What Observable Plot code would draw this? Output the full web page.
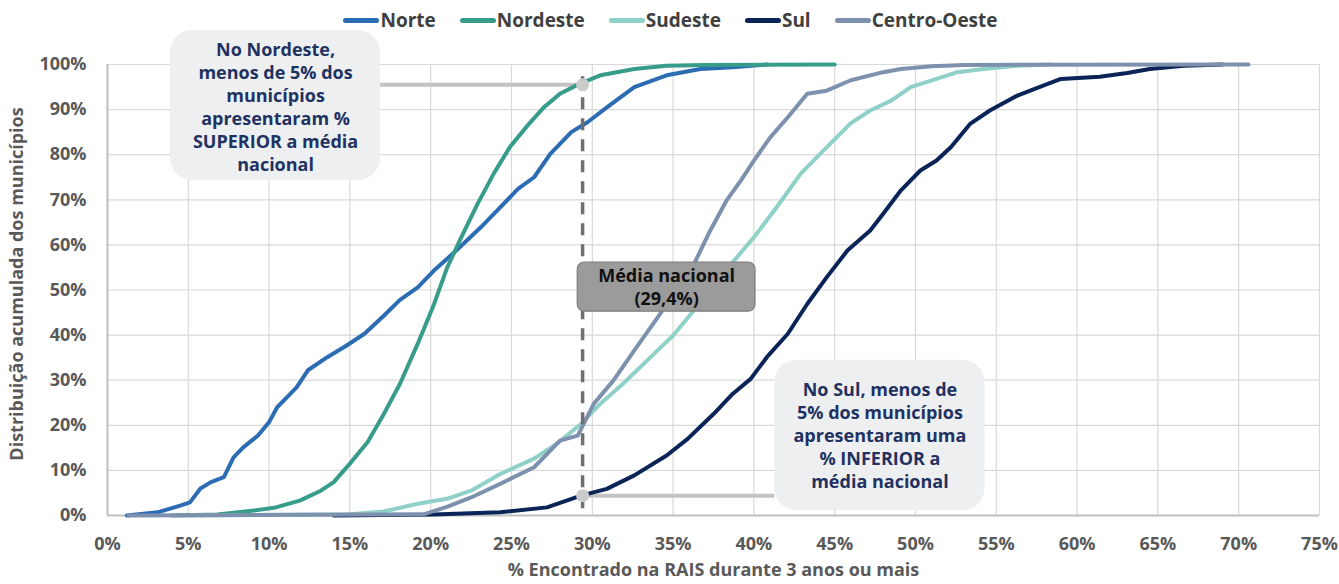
<!DOCTYPE html>
<html>
<head>
<meta charset="utf-8">
<script src="https://cdn.jsdelivr.net/npm/d3@7"></script>
<script src="https://cdn.jsdelivr.net/npm/@observablehq/plot@0.6"></script>
<style>
  body { margin: 0; background: #fff; width: 1339px; height: 584px; overflow: hidden; font-family: "Open Sans", sans-serif; }
  #legend { height: 30px; display: flex; justify-content: center; align-items: flex-end; gap: 24px; font-weight: 700; font-size: 19px; color: #404040; padding-left: 2px; box-sizing: border-box; }
  #legend .item { display: flex; align-items: center; line-height: 19px; height: 19px; }
  #legend .sw { width: 36px; height: 5px; border-radius: 3px; margin-right: 1px; }
  #chart svg { overflow: visible; display: block; }
</style>
</head>
<body>
<div id="legend"></div>
<div id="chart"></div>
<script>
// ---------- data ----------
const regions = ["Norte", "Nordeste", "Sudeste", "Sul", "Centro-Oeste"];
const colors  = ["#2b6cb3", "#389c8a", "#8fd1c8", "#0b2458", "#7d91ae"];

const xTicks = [0, 5, 10, 15, 20, 25, 30, 35, 40, 45, 50, 55, 60, 65, 70, 75];
const yTicks = [0, 10, 20, 30, 40, 50, 60, 70, 80, 90, 100];

const norteX = [1.2, 3.1, 4.5, 5.1, 5.75, 6.4, 7.2, 7.8, 8.4, 9.3, 10.0, 10.5, 11.1, 11.7, 12.4, 13.6, 14.8, 15.9, 17.1, 18.1, 19.2, 20.2, 21.6, 23.1, 24.3, 25.4, 26.4, 27.4, 28.7, 29.7, 30.9, 32.6, 34.6, 36.7, 38.7, 40.8];
const norteY = [0, 0.7, 2.2, 2.9, 6.0, 7.4, 8.5, 12.9, 15.1, 17.7, 20.7, 24.0, 26.2, 28.4, 32.2, 35.1, 37.7, 40.3, 44.3, 47.8, 50.6, 54.3, 58.8, 63.9, 68.3, 72.4, 75.0, 80.2, 85.0, 87.2, 90.5, 95.0, 97.6, 99.0, 99.4, 100];

const nordesteX = [4.0, 6.8, 8.8, 10.3, 11.9, 13.2, 14.0, 15.0, 16.1, 17.1, 18.1, 19.2, 20.2, 21.0, 21.8, 22.9, 23.9, 24.9, 26.0, 27.0, 28.0, 29.2, 30.5, 32.6, 34.6, 37.0, 45.0];
const nordesteY = [0, 0.2, 1.0, 1.7, 3.3, 5.5, 7.4, 11.5, 16.3, 22.5, 29.2, 38.1, 46.8, 54.8, 61.0, 69.1, 75.8, 81.7, 86.5, 90.5, 93.5, 95.7, 97.6, 99.0, 99.7, 99.9, 100];

const sudesteX = [5.0, 15.0, 17.1, 19.2, 21.0, 22.5, 24.3, 26.4, 27.8, 29.3, 30.5, 31.9, 33.4, 35.0, 36.3, 37.5, 38.6, 40.0, 41.4, 42.9, 44.3, 46.0, 47.2, 48.5, 49.7, 51.3, 52.6, 54.2, 56.3, 58.4];
const sudesteY = [0, 0.3, 0.9, 2.6, 3.7, 5.5, 9.2, 12.6, 15.9, 20.3, 24.8, 29.2, 34.4, 39.9, 45.5, 52.0, 55.8, 61.7, 68.3, 75.8, 80.9, 87.0, 89.8, 92.0, 95.0, 96.8, 98.3, 99.0, 99.7, 100];

const sulX = [14.0, 20.2, 24.3, 27.2, 29.3, 30.9, 32.6, 34.6, 35.9, 37.5, 38.7, 39.8, 40.8, 42.1, 43.3, 44.5, 45.8, 47.2, 48.0, 49.1, 50.3, 51.3, 52.2, 53.4, 54.6, 56.3, 57.9, 59.0, 61.4, 63.1, 64.5, 66.6, 69.0];
const sulY = [0, 0.2, 0.7, 1.8, 4.4, 5.9, 8.9, 13.3, 17.0, 22.5, 27.0, 30.3, 35.1, 40.3, 46.9, 52.8, 58.8, 63.2, 66.9, 72.1, 76.5, 78.7, 81.7, 86.9, 89.8, 93.1, 95.3, 96.8, 97.3, 98.1, 99.0, 99.7, 100];

const centroOesteX = [1.3, 19.6, 21.0, 22.5, 24.3, 26.4, 28.0, 29.1, 30.1, 31.3, 32.6, 34.2, 35.5, 36.3, 37.3, 38.3, 39.2, 40.0, 41.0, 42.1, 43.3, 44.5, 46.0, 48.0, 49.1, 51.0, 53.0, 70.6];
const centroOesteY = [0, 0.3, 1.9, 4.0, 7.0, 10.7, 16.6, 17.7, 24.8, 29.9, 36.6, 44.7, 51.4, 55.8, 63.2, 69.8, 74.3, 78.7, 83.8, 88.3, 93.5, 94.2, 96.5, 98.3, 99.0, 99.6, 99.9, 100];

const mediaNacional = 29.4;
const mediaLabel = "Média nacional\n(29,4%)";
const marcoSuperior = 95.5;   // Nordeste: 95% abaixo da média
const marcoInferior = 4.4;    // Sul: <5% abaixo da média

const calloutTexts = [
  "No Nordeste,\nmenos de 5% dos\nmunicípios\napresentaram %\nSUPERIOR a média\nnacional",
  "No Sul, menos de\n5% dos municípios\napresentaram uma\n% INFERIOR a\nmédia nacional"
];
const xTitle = "% Encontrado na RAIS durante 3 anos ou mais";
const yTitle = "Distribuição acumulada dos municípios";

// ---------- build tables ----------
const seriesX = [norteX, nordesteX, sudesteX, sulX, centroOesteX];
const seriesY = [norteY, nordesteY, sudesteY, sulY, centroOesteY];
const rows = [];
regions.forEach((r, i) => seriesX[i].forEach((x, j) => rows.push({region: r, x, y: seriesY[i][j]})));

// callout boxes in data units
const callouts = [
  {x1: 3.9, x2: 16.9, y1: 74.3, y2: 107.5, cx: 10.4, cy: 90.8, text: calloutTexts[0]},
  {x1: 41.3, x2: 54.3, y1: 1.1, y2: 34.4, cx: 47.8, cy: 18.0, text: calloutTexts[1]}
];
const mediaBox = [{x1: 29.1, x2: 40.1, y1: 45.2, y2: 56.1, cx: 34.6, cy: 50.8, text: mediaLabel}];

// ---------- legend ----------
const leg = document.getElementById("legend");
regions.forEach((r, i) => {
  const it = document.createElement("div");
  it.className = "item";
  it.innerHTML = `<span class="sw" style="background:${colors[i]}"></span><span>${r}</span>`;
  leg.appendChild(it);
});

// ---------- plot ----------
const fmt = d => d + "%";
const chart = Plot.plot({
  width: 1339,
  height: 554,
  marginTop: 34,
  marginBottom: 69,
  marginLeft: 107,
  marginRight: 20,
  style: {fontFamily: "'Open Sans', sans-serif", fontSize: "18px", fontWeight: "bold", color: "#595959", background: "transparent", overflow: "visible"},
  x: {domain: [0, 75]},
  y: {domain: [0, 100]},
  color: {domain: regions, range: colors},
  marks: [
    Plot.gridX(xTicks, {stroke: "#d9d9d9", strokeOpacity: 1, strokeWidth: 1.2}),
    Plot.gridY(yTicks, {stroke: "#d9d9d9", strokeOpacity: 1, strokeWidth: 1.2}),
    Plot.ruleX([0], {stroke: "#bfbfbf", strokeWidth: 2}),
    Plot.ruleY([0], {stroke: "#bfbfbf", strokeWidth: 2}),
    Plot.axisX({ticks: xTicks, tickFormat: fmt, tickSize: 0, tickPadding: 22, label: null, fill: "#595959", fontSize: 18}),
    Plot.axisY({ticks: yTicks, tickFormat: fmt, tickSize: 0, tickPadding: 21, label: null, fill: "#595959", fontSize: 18}),
    Plot.text([xTitle], {frameAnchor: "bottom", dy: 60, fontSize: 18, fill: "#595959", fontWeight: "bold"}),
    Plot.text([yTitle], {frameAnchor: "left", textAnchor: "middle", rotate: -90, dx: -90, dy: -6, fontSize: 18, fill: "#595959", fontWeight: "bold"}),
    // connectors
    Plot.ruleY([marcoSuperior], {x1: 16.9, x2: mediaNacional, stroke: "#c3c3c3", strokeWidth: 4}),
    Plot.ruleY([marcoInferior], {x1: mediaNacional, x2: 41.3, stroke: "#c3c3c3", strokeWidth: 4}),
    // series
    Plot.line(rows, {x: "x", y: "y", z: "region", stroke: "region", strokeWidth: 4, strokeLinejoin: "round", strokeLinecap: "round"}),
    // national mean
    Plot.ruleX([mediaNacional], {y1: 1.5, y2: 99, stroke: "#6f6f6f", strokeWidth: 3.5, strokeDasharray: "12,9"}),
    Plot.dot([{x: mediaNacional, y: marcoSuperior}, {x: mediaNacional, y: marcoInferior}], {x: "x", y: "y", r: 6.5, fill: "#cbcbcb", stroke: "none"}),
    Plot.rect(mediaBox, {x1: "x1", x2: "x2", y1: "y1", y2: "y2", fill: "#9b9b9b", stroke: "#7d7d7d", strokeWidth: 1.2, rx: 7}),
    Plot.text(mediaBox, {x: "cx", y: "cy", text: "text", fill: "#111", fontSize: 18, fontWeight: "bold", lineHeight: 1.28}),
    // callouts
    Plot.rect(callouts, {x1: "x1", x2: "x2", y1: "y1", y2: "y2", fill: "#eeeff1", rx: 22}),
    Plot.text(callouts, {x: "cx", y: "cy", text: "text", fill: "#1f3261", fontSize: 18, fontWeight: "bold", lineHeight: 1.28})
  ]
});
document.getElementById("chart").appendChild(chart);
</script>
</body>
</html>
